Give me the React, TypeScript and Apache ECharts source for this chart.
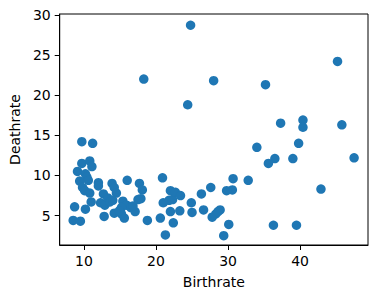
import React, { useEffect, useRef } from "react";
import * as echarts from "echarts";

// Birth rate vs death rate per country (per 1,000 population)
const birthrate: number[] = [
  24.8, 45.2, 18.3, 28.0, 35.2, 24.4, 37.3, 40.4, 40.4, 45.8,
  34.0, 39.8, 36.5, 39.0, 47.5, 35.6, 42.9, 36.3, 39.5,
  20.9, 30.7, 32.8, 30.6, 29.8, 27.6, 26.3, 24.9, 25.0, 26.6,
  28.9, 28.3, 27.8, 28.6, 30.1, 29.4, 21.3, 22.4, 20.6, 18.8,
  23.3, 22.0, 21.8, 22.3, 21.0, 22.0, 22.7, 23.4,
  9.7, 11.2, 9.7, 10.8, 11.1, 9.1, 10.2, 10.4, 10.6, 9.4,
  12.0, 12.0, 9.8, 10.1, 10.8, 11.0, 10.2, 8.7, 8.5, 9.5,
  12.8, 12.7, 12.3, 12.9, 13.3, 13.9, 14.2, 14.5, 13.6, 14.0,
  14.2, 16.0, 17.7, 18.1, 17.9, 17.5, 15.4, 15.9, 16.5, 17.1,
  15.2, 15.6, 15.2, 14.9, 16.8,
];
const deathrate: number[] = [
  28.7, 24.2, 22.0, 21.8, 21.3, 18.8, 16.5, 16.9, 16.0, 16.3,
  13.5, 14.0, 12.1, 12.1, 12.2, 11.5, 8.3, 3.8, 3.8,
  9.7, 9.6, 9.4, 8.2, 8.1, 8.5, 7.7, 6.6, 5.4, 5.7,
  5.7, 5.2, 4.8, 5.5, 3.9, 2.5, 2.6, 4.1, 4.7, 4.4,
  5.6, 5.5, 6.9, 7.0, 6.6, 8.1, 7.9, 7.5,
  14.2, 14.0, 11.5, 11.8, 11.1, 10.5, 10.2, 9.8, 9.4, 9.3,
  9.1, 8.7, 8.5, 8.1, 7.8, 6.7, 5.8, 6.1, 4.4, 4.3,
  4.9, 7.7, 6.6, 6.3, 7.2, 9.0, 8.5, 7.8, 6.7, 6.9,
  5.3, 9.4, 9.0, 8.2, 7.1, 7.0, 6.8, 6.3, 6.0, 5.5,
  6.0, 4.7, 5.2, 5.6, 6.2,
];

const xTicks = [10, 20, 30, 40];
const yTicks = [5, 10, 15, 20, 25, 30];

const FONT = "DejaVu Sans";
const FONT_SIZE = 14;

export default function App() {
  const ref = useRef<HTMLDivElement>(null);

  useEffect(() => {
    if (!ref.current) return;
    const chart = echarts.init(ref.current, null, { renderer: "svg" });
    const points = birthrate.map((b, i) => [b, deathrate[i]]);
    chart.setOption({
      animation: false,
      grid: {
        left: 58,
        top: 14,
        right: 9,
        bottom: 54,
        show: true,
        borderColor: "#000",
        borderWidth: 1,
        backgroundColor: "transparent",
      },
      xAxis: {
        type: "value",
        min: 6.63,
        max: 49.43,
        name: "Birthrate",
        nameLocation: "middle",
        nameGap: 30,
        nameTextStyle: { fontFamily: FONT, fontSize: FONT_SIZE, color: "#000" },
        axisLine: { show: true, onZero: false, lineStyle: { color: "#000", width: 1 } },
        axisTick: {
          show: true,
          length: 5,
          customValues: xTicks,
          lineStyle: { color: "#000", width: 1 },
        },
        axisLabel: {
          customValues: xTicks,
          margin: 9,
          fontFamily: FONT,
          fontSize: FONT_SIZE,
          color: "#000",
        },
        splitLine: { show: false },
      },
      yAxis: {
        type: "value",
        min: 1.34,
        max: 30.1,
        name: "Deathrate",
        nameLocation: "middle",
        nameGap: 33,
        nameRotate: 90,
        nameTextStyle: { fontFamily: FONT, fontSize: FONT_SIZE, color: "#000" },
        axisLine: { show: true, onZero: false, lineStyle: { color: "#000", width: 1 } },
        axisTick: {
          show: true,
          length: 5,
          customValues: yTicks,
          lineStyle: { color: "#000", width: 1 },
        },
        axisLabel: {
          customValues: yTicks,
          margin: 9,
          fontFamily: FONT,
          fontSize: FONT_SIZE,
          color: "#000",
        },
        splitLine: { show: false },
      },
      series: [
        {
          type: "scatter",
          data: points,
          symbol: "circle",
          symbolSize: 9.5,
          itemStyle: { color: "#1f77b4", opacity: 1 },
          emphasis: { disabled: true },
        },
      ],
    });
    return () => chart.dispose();
  }, []);

  return <div ref={ref} style={{ width: 377, height: 299, position: "absolute", left: 0, top: 0 }} />;
}
